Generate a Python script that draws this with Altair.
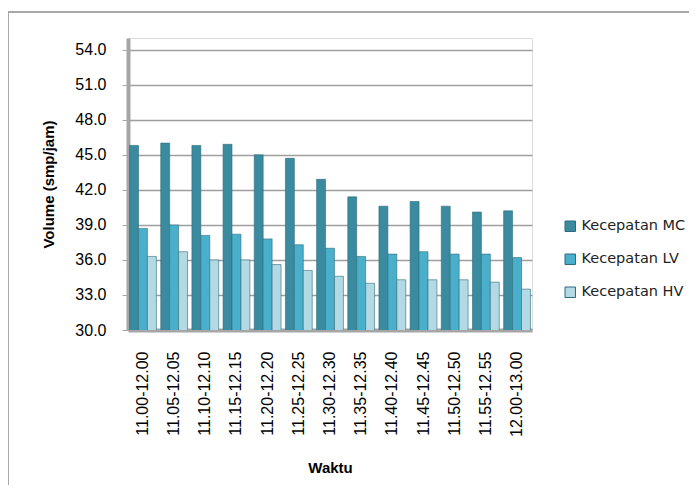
import altair as alt
import pandas as pd

waktu = ["11.00-12.00", "11.05-12.05", "11.10-12.10", "11.15-12.15", "11.20-12.20",
         "11.25-12.25", "11.30-12.30", "11.35-12.35", "11.40-12.40", "11.45-12.45",
         "11.50-12.50", "11.55-12.55", "12.00-13.00"]
mc = [45.8, 46.0, 45.8, 45.9, 45.0, 44.7, 42.9, 41.4, 40.6, 41.0, 40.6, 40.1, 40.2]
lv = [38.7, 39.0, 38.1, 38.2, 37.8, 37.3, 37.0, 36.3, 36.5, 36.7, 36.5, 36.5, 36.2]
hv = [36.3, 36.7, 36.0, 36.0, 35.6, 35.1, 34.6, 34.0, 34.3, 34.3, 34.3, 34.1, 33.5]
series = ["Kecepatan MC", "Kecepatan LV", "Kecepatan HV"]
colors = ["#3A8AA0", "#4AAFCA", "#B3D9E4"]
y_ticks = [30, 33, 36, 39, 42, 45, 48, 51, 54]

rows = []
for i, w in enumerate(waktu):
    for s, vals in zip(series, [mc, lv, hv]):
        rows.append({"Waktu": w, "Seri": s, "Nilai": vals[i]})
df = pd.DataFrame(rows)

W, H = 404, 292
FONT = "DejaVu Sans"

bars = alt.Chart(df).mark_bar(stroke="#2C6B7C", strokeWidth=0.6, clip=True).encode(
    x=alt.X("Waktu:N", sort=waktu, title="Waktu",
            scale=alt.Scale(paddingInner=0.14, paddingOuter=0.05),
            axis=alt.Axis(labelAngle=-90, ticks=False, labelPadding=21,
                          domainColor="#A6A6A6", domainWidth=4,
                          titlePadding=24, labelFontSize=16, titleFontSize=15)),
    xOffset=alt.XOffset("Seri:N", sort=series),
    y=alt.Y("Nilai:Q", title="Volume (smp/jam)",
            scale=alt.Scale(domain=[30, 55], nice=False, zero=False),
            axis=alt.Axis(values=y_ticks, format=".1f", tickSize=6, tickColor="#A6A6A6",
                          labelPadding=16, domainColor="#A6A6A6", domainWidth=4,
                          gridColor="#9E9E9E", gridWidth=1.5,
                          titlePadding=18, labelFontSize=16, titleFontSize=15)),
    color=alt.Color("Seri:N", sort=series,
                    scale=alt.Scale(domain=series, range=colors),
                    legend=alt.Legend(title=None, orient="none", legendX=435, legendY=181,
                                      symbolType="square", symbolSize=110,
                                      symbolStrokeColor="#2C6B7C", symbolStrokeWidth=1,
                                      labelFontSize=14.5, labelFont=FONT, labelColor="#222222",
                                      rowPadding=17, labelOffset=4, labelLimit=200)),
)

frame_v = alt.Chart(df).mark_rule(color="#A8A8A8", strokeWidth=1.5).encode(
    x=alt.value(-120), y=alt.value(-26), y2=alt.value(H + 160))
frame_h = alt.Chart(df).mark_rule(color="#A8A8A8", strokeWidth=1.5).encode(
    x=alt.value(-120), x2=alt.value(W + 160), y=alt.value(-26))

chart = alt.layer(bars, frame_v, frame_h).properties(
    width=W, height=H,
    autosize=alt.AutoSizeParams(type="none"),
    padding={"left": 120, "top": 30, "right": 157, "bottom": 155},
).configure_view(fill="#EAF1F8", stroke=None).configure_axis(
    labelFont=FONT, titleFont=FONT, labelColor="#222222", titleColor="#111111",
    titleFontWeight="bold",
).configure(background="white")

chart.save("out.html", embed_options={"renderer": "svg", "actions": False})
